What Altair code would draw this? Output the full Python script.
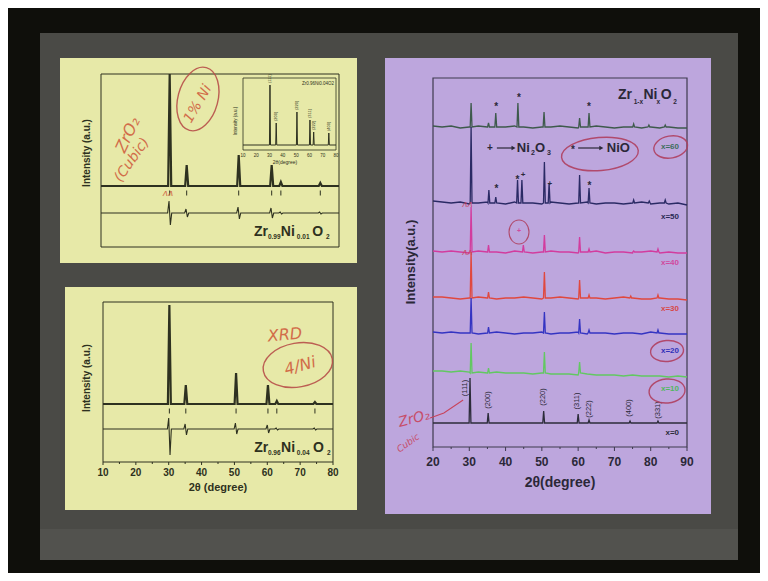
import altair as alt
import pandas as pd

# ---------------- colours ----------------
YELLOW = "#e7e9a8"
PURPLE = "#bda6dd"
SLIDE = "#4a4a46"
BAND = "#52524e"
BORDER = "#0f0f0b"
INK_L = "#2e3120"
INK_R = "#2b2838"
HAND_L = "#d0603f"
HAND_R = "#c8445c"
FONT = "Liberation Sans"
HAND = "DejaVu Sans"

# ---------------- data: top-left panel (Zr0.99Ni0.01O2) ----------------
tl_peak_pos = [30.2, 35.2, 50.5, 60.2, 62.9, 74.5]
tl_obs_height = [112, 21, 31, 21, 4, 3]
tl_obs_base = 61
tl_bragg_level = 54
tl_diff_base = 34
tl_diff_up = [46, 38, 40, 39, 35, 35]
tl_diff_down = [22, 30, 28, 29, 33, 33]

# inset of the top-left panel
in_peak_pos = [30.3, 35.0, 50.6, 60.4, 63.2, 74.6]
in_peak_height = [60, 22, 33, 25, 13, 12]
in_base = 5
in_hkl = ["(111)", "(200)", "(220)", "(311)", "(222)", "(400)"]
in_ticks = [10, 20, 30, 40, 50, 60, 70, 80]

# ---------------- data: bottom-left panel (Zr0.96Ni0.04O2) ----------------
bl_peak_pos = [30.2, 35.2, 50.5, 60.2, 62.9, 74.5]
bl_obs_height = [99, 19, 31, 19, 3, 2]
bl_obs_base = 58
bl_bragg_level = 51
bl_diff_base = 33
bl_diff_up = [44, 38, 39, 37, 34, 34]
bl_diff_down = [7, 27, 28, 29, 32, 32]
bl_ticks = [10, 20, 30, 40, 50, 60, 70, 80]
bl_minor = [15, 25, 35, 45, 55, 65, 75]

# ---------------- data: right panel (Zr1-xNixO2) ----------------
r_grid = [20, 22.5, 25, 27.5, 30, 32.5, 35, 37.5, 40, 42.5, 45, 47.5, 50, 52.5,
          55, 57.5, 60, 62.5, 65, 67.5, 70, 72.5, 75, 77.5, 80, 82.5, 85, 87.5, 90]
r_ticks = [20, 30, 40, 50, 60, 70, 80, 90]
r_minor = [25, 35, 45, 55, 65, 75, 85]

x60_base = 320
x60_noise = [1, 0, 1, -1, 0, 1, 0, -1, 0, 1, 0, -1, 0, 0, 1, 0, -1, 0, 1, 0, -1, 0, 0, -1, 0, -1, 0, -1, -1]
x60_pos = [30.5, 35.3, 37.3, 43.4, 50.6, 60.4, 63.0, 75.3, 79.5, 84.0]
x60_h = [24, 4, 14, 24, 15, 9, 14, 3, 2, 2]

x50_base = 244
x50_noise = [2, 1, 0, 1, -1, 0, 1, 0, -1, 1, 0, 0, -1, 1, 0, -1, 0, 1, -1, 0, 0, -1, 0, 1, -1, 0, -1, 0, -2]
x50_pos = [30.5, 35.4, 37.3, 43.3, 44.5, 50.7, 52.0, 60.4, 63.0, 75.3, 79.6, 84.0]
x50_h = [76, 13, 6, 23, 23, 41, 20, 28, 15, 3, 2, 3]

x40_base = 195
x40_noise = [1, 0, 1, 0, -1, 1, 0, 0, -1, 1, 0, -1, 0, 1, 0, 0, -1, 0, 1, -1, 0, 0, -1, 0, 1, -1, 0, -1, -1]
x40_pos = [30.5, 35.3, 44.9, 50.7, 60.4, 63.0, 75.3, 82.0]
x40_h = [45, 7, 7, 17, 15, 3, 1, 3]

x30_base = 149
x30_noise = [1, 1, 0, -1, 0, 1, 0, -1, 0, 0, 1, 0, -1, 0, 1, 0, -1, 0, 0, -1, 0, 1, 0, -1, -1, 0, -1, -1, -2]
x30_pos = [30.5, 35.3, 50.7, 60.4, 63.0, 74.5, 82.0]
x30_h = [46, 6, 26, 18, 3, 2, 3]

x20_base = 114
x20_noise = [1, 0, 1, 0, 0, -1, 0, 1, 0, -1, 0, 0, 1, -1, 0, 0, 1, -1, 0, 0, -1, 0, 0, -1, 1, 0, -1, -1, -1]
x20_pos = [30.5, 35.3, 50.7, 60.4, 63.0, 82.0]
x20_h = [35, 6, 21, 14, 3, 3]

x10_base = 74
x10_noise = [2, 2, 1, 2, 1, 1, 0, 1, 0, 0, 0, -1, 0, -1, -1, -1, -2, -1, -2, -2, -2, -3, -2, -3, -3, -3, -4, -3, -4]
x10_pos = [30.5, 35.3, 50.7, 60.4]
x10_h = [30, 5, 21, 11]

x0_base = 24
x0_noise = [0] * 29
x0_pos = [30.2, 35.2, 50.5, 60.0, 63.0, 74.3, 82.0]
x0_h = [45, 10, 12, 9, 3, 2, 2]

r_series = [
    ("x=60", x60_base, x60_noise, x60_pos, x60_h, "#3e5a4c", "#3e6e5e", 300),
    ("x=50", x50_base, x50_noise, x50_pos, x50_h, "#2a2a64", "#2a2a54", 230),
    ("x=40", x40_base, x40_noise, x40_pos, x40_h, "#d23c9e", "#d04a9e", 184),
    ("x=30", x30_base, x30_noise, x30_pos, x30_h, "#e0483e", "#d84848", 138),
    ("x=20", x20_base, x20_noise, x20_pos, x20_h, "#3434c2", "#3030b8", 96),
    ("x=10", x10_base, x10_noise, x10_pos, x10_h, "#62c862", "#50b860", 58),
    ("x=0", x0_base, x0_noise, x0_pos, x0_h, "#2c2c3a", "#2c2c3a", 14),
]

hkl_pos = [28.9, 35.2, 50.4, 59.8, 62.9, 74.0, 82.0]
hkl_level = [59, 47, 50, 46, 38, 39, 37]
hkl_text = ["(111)", "(200)", "(220)", "(311)", "(222)", "(400)", "(331)"]

nio_top_pos = [37.4, 43.7, 63.0]
nio_top_level = [340, 349, 340]
nio_mid_pos = [37.5, 43.3, 63.1]
nio_mid_level = [258, 267, 261]
ni2o3_mid_pos = [44.8, 52.2]
ni2o3_mid_level = [272, 263]

ONE = pd.DataFrame({"a": [0]})


# ---------------- helpers ----------------
def sc(dom, rng):
    return alt.Scale(domain=dom, range=rng, nice=False, zero=False)


def enc(xs, ys):
    return dict(x=alt.X("x:Q", scale=xs, axis=None), y=alt.Y("y:Q", scale=ys, axis=None))


def trace_rows(grid, offs, base, pos, hts, w):
    pts = []
    for g, o in zip(grid, offs):
        if all(abs(g - p) > w for p in pos):
            pts.append((g, base + o))
    for p, h in zip(pos, hts):
        pts += [(p - w, base), (p, base + h), (p + w, base)]
    return sorted(pts)


def diff_rows(lo, hi, pos, up, dn, base, w):
    pts = [(lo, base), (hi, base)]
    for p, u, d in zip(pos, up, dn):
        pts += [(p - w, base), (p - w / 3, u), (p + w / 3, d), (p + w, base)]
    return sorted(pts)


def line_layer(rows, xs, ys, color, width, opacity=1.0):
    df = pd.DataFrame(rows, columns=["x", "y"])
    return alt.Chart(df).mark_line(color=color, strokeWidth=width, opacity=opacity).encode(**enc(xs, ys))


def text_layer(rows, xs, ys, **mk):
    df = pd.DataFrame(rows, columns=["x", "y", "t"])
    return alt.Chart(df).mark_text(**mk).encode(text="t:N", **enc(xs, ys))


def frame(x0, x1, y0, y1, xs, ys, color, width):
    df = pd.DataFrame({"x": [x0], "x2": [x1], "y": [y0], "y2": [y1]})
    return alt.Chart(df).mark_rect(fillOpacity=0, stroke=color, strokeWidth=width).encode(
        x=alt.X("x:Q", scale=xs, axis=None), x2="x2:Q",
        y=alt.Y("y:Q", scale=ys, axis=None), y2="y2:Q")


def rules(xvals, y0, y1, xs, ys, color, width):
    df = pd.DataFrame({"x": xvals, "y": [y0] * len(xvals), "y2": [y1] * len(xvals)})
    return alt.Chart(df).mark_rule(color=color, strokeWidth=width).encode(
        x=alt.X("x:Q", scale=xs, axis=None), y=alt.Y("y:Q", scale=ys, axis=None), y2="y2:Q")


def panel(x0, x1, y0, y1, color):
    return alt.Chart(ONE).mark_rect(color=color).encode(
        x=alt.value(x0), x2=alt.value(x1), y=alt.value(y0), y2=alt.value(y1))


def arrowheads(rows, xs, ys, color):
    df = pd.DataFrame(rows, columns=["x", "y"])
    return alt.Chart(df).mark_point(shape="triangle-right", size=22, filled=True, color=color,
                                    opacity=1).encode(**enc(xs, ys))


def ellipse(x, y, w, h, ang, xs, ys, color, sw=1.4):
    if w >= h:
        r = round(h / w, 3)
        path = f"M -1 0 A 1 {r} 0 1 0 1 0 A 1 {r} 0 1 0 -1 0"
        s = w * w
    else:
        r = round(w / h, 3)
        path = f"M 0 -1 A {r} 1 0 1 0 0 1 A {r} 1 0 1 0 0 -1"
        s = h * h
    df = pd.DataFrame({"x": [x], "y": [y]})
    return alt.Chart(df).mark_point(shape=path, size=s, angle=ang, filled=False, color=color,
                                    strokeWidth=sw, opacity=0.9).encode(**enc(xs, ys))


def bold(size, color, **kw):
    return dict(font=FONT, fontWeight="bold", fontSize=size, color=color, **kw)


def hand(size, color, angle=0, **kw):
    return dict(font=HAND, fontStyle="italic", fontSize=size, color=color, angle=angle, opacity=0.9, **kw)


# ---------------- top-left tile ----------------
xs = sc([10, 80], [61, 299])
ys = sc([0, 173], [214, 41])
xi = sc([10, 80], [203, 296])
yi = sc([0, 72], [117, 45])

tl_layers = [
    panel(20, 317, 25, 230, YELLOW),
    frame(10, 80, 0, 173, xs, ys, INK_L, 1),
    line_layer(trace_rows([10, 80], [0, 0], tl_obs_base, tl_peak_pos, tl_obs_height, 0.45), xs, ys, INK_L, 2.2),
    rules(tl_peak_pos, tl_bragg_level - 2.5, tl_bragg_level + 2.5, xs, ys, INK_L, 1),
    line_layer(diff_rows(10, 80, tl_peak_pos, tl_diff_up, tl_diff_down, tl_diff_base, 0.6), xs, ys, INK_L, 1.1),
    text_layer([(5.9, 94, "Intensity (a.u.)")], xs, ys, **bold(10, INK_L, angle=270)),
    text_layer([(55.0, 15, "Zr"), (62.9, 15, "Ni"), (72.1, 15, "O")], xs, ys,
               **bold(14, INK_L, align="left", baseline="middle")),
    text_layer([(59.1, 10, "0.99"), (67.6, 10, "0.01"), (76.2, 10, "2")], xs, ys,
               **bold(6.5, INK_L, align="left", baseline="middle")),
    # inset
    frame(10, 80, 0, 72, xi, yi, INK_L, 0.8),
    line_layer(trace_rows([10, 80], [0, 0], in_base, in_peak_pos, in_peak_height, 0.4), xi, yi, INK_L, 1),
    text_layer([(p, in_base + h + 2, t) for p, h, t in zip(in_peak_pos, in_peak_height, in_hkl)], xi, yi,
               font=FONT, fontSize=4, color=INK_L, angle=270, align="left", baseline="middle"),
    text_layer([(66.5, 66, "Zr0.96Ni0.04O2")], xi, yi, font=FONT, fontSize=4.5, color=INK_L),
    text_layer([(t, -6, str(t)) for t in in_ticks], xi, yi, font=FONT, fontSize=4.5, color=INK_L),
    text_layer([(41.6, -12, "2θ(degree)")], xi, yi, font=FONT, fontSize=5, color=INK_L),
    text_layer([(4.7, 29, "Intensity (a.u.)")], xi, yi, font=FONT, fontSize=4.5, color=INK_L, angle=270),
    # handwriting
    text_layer([(17.9, 112, "ZrO₂")], xs, ys, **hand(16, HAND_L, 295)),
    text_layer([(19.1, 87, "(Cubic)")], xs, ys, **hand(14, HAND_L, 305)),
    text_layer([(38.5, 143, "1% Ni")], xs, ys, **hand(14, HAND_L, 300)),
    ellipse(38.5, 148, 40, 65, 15, xs, ys, "#b8504a"),
    text_layer([(29.7, 54, "ʌʌ")], xs, ys, **hand(9, HAND_L)),
]
tl = alt.layer(*tl_layers).resolve_scale(x="independent", y="independent").properties(width=335, height=242)

# ---------------- bottom-left tile ----------------
xb = sc([10, 80], [63, 293])
yb = sc([0, 160], [187, 27])

bl_layers = [
    panel(25, 317, 12, 235, YELLOW),
    panel(0, 335, 254, 285, BAND),
    frame(10, 80, 0, 160, xb, yb, INK_L, 1),
    line_layer(trace_rows([10, 80], [0, 0], bl_obs_base, bl_peak_pos, bl_obs_height, 0.45), xb, yb, INK_L, 2.2),
    rules(bl_peak_pos, bl_bragg_level - 2.5, bl_bragg_level + 2.5, xb, yb, INK_L, 1),
    line_layer(diff_rows(10, 80, bl_peak_pos, bl_diff_up, bl_diff_down, bl_diff_base, 0.6), xb, yb, INK_L, 1.1),
    rules(bl_ticks, 0, -3, xb, yb, INK_L, 1),
    rules(bl_minor, 0, -2, xb, yb, INK_L, 1),
    text_layer([(t, -11, str(t)) for t in bl_ticks], xb, yb, **bold(10, INK_L)),
    text_layer([(45.0, -26, "2θ (degree)")], xb, yb, **bold(11, INK_L)),
    text_layer([(5.1, 84, "Intensity (a.u.)")], xb, yb, **bold(10, INK_L, angle=270)),
    text_layer([(56.0, 14, "Zr"), (64.2, 14, "Ni"), (73.9, 14, "O")], xb, yb,
               **bold(14, INK_L, align="left", baseline="middle")),
    text_layer([(60.2, 9, "0.96"), (69.0, 9, "0.04"), (78.2, 9, "2")], xb, yb,
               **bold(6.5, INK_L, align="left", baseline="middle")),
    text_layer([(65.4, 127, "XRD")], xb, yb, **hand(16, HAND_L, 355)),
    text_layer([(70.0, 96, "4/Ni")], xb, yb, **hand(16, HAND_L, 345)),
    ellipse(69.3, 97, 70, 44, 350, xb, yb, "#b8504a"),
]
bl = alt.layer(*bl_layers).resolve_scale(x="independent", y="independent").properties(width=335, height=285)

# ---------------- right tile ----------------
xr = sc([20, 90], [58, 312])
yr = sc([0, 369], [414, 45])

r_layers = [
    panel(10, 336, 25, 481, PURPLE),
    panel(0, 363, 496, 527, BAND),
    frame(20, 90, 0, 369, xr, yr, "#3e3a4e", 1.2),
    rules(r_ticks, 0, -4, xr, yr, "#3e3a4e", 1),
    rules(r_minor, 0, -2, xr, yr, "#3e3a4e", 1),
    text_layer([(t, -15, str(t)) for t in r_ticks], xr, yr, **bold(12, INK_R)),
    text_layer([(55.0, -36, "2θ(degree)")], xr, yr, **bold(14, INK_R)),
    text_layer([(13.9, 185, "Intensity(a.u.)")], xr, yr, **bold(13, INK_R, angle=270)),
]
for name, base, noise, pos, hts, col, lcol, ly in r_series:
    r_layers.append(line_layer(trace_rows(r_grid, noise, base, pos, hts, 0.25), xr, yr, col, 1.3))
    r_layers.append(text_layer([(87.8, ly, name)], xr, yr, **bold(8, lcol, align="right")))

r_layers += [
    text_layer(list(zip(hkl_pos, hkl_level, hkl_text)), xr, yr,
               font=FONT, fontSize=7.5, color=INK_R, angle=270),
    text_layer([(p, l, "*") for p, l in zip(nio_top_pos, nio_top_level)], xr, yr, **bold(10, INK_R)),
    text_layer([(p, l, "*") for p, l in zip(nio_mid_pos, nio_mid_level)], xr, yr, **bold(10, INK_R)),
    text_layer([(p, l, "+") for p, l in zip(ni2o3_mid_pos, ni2o3_mid_level)], xr, yr, **bold(8, INK_R)),
    # title
    text_layer([(71.0, 352, "Zr"), (78.0, 352, "Ni"), (82.8, 352, "O")], xr, yr,
               **bold(14, INK_R, align="left", baseline="middle")),
    text_layer([(75.3, 345, "1-x"), (81.6, 345, "x"), (86.2, 345, "2")], xr, yr,
               **bold(6.5, INK_R, align="left", baseline="middle")),
    # legend
    text_layer([(35.7, 299, "+"), (58.6, 297, "*")], xr, yr, **bold(10, INK_R, baseline="middle")),
    line_layer([(37.6, 299), (42.0, 299)], xr, yr, INK_R, 1.2),
    line_layer([(60.0, 299), (66.2, 299)], xr, yr, INK_R, 1.2),
    arrowheads([(42.2, 299), (66.4, 299)], xr, yr, INK_R),
    text_layer([(43.1, 299, "Ni"), (48.1, 299, "O"), (67.9, 299, "NiO")], xr, yr,
               **bold(13, INK_R, align="left", baseline="middle")),
    text_layer([(47.0, 294, "2"), (51.4, 294, "3")], xr, yr,
               **bold(7, INK_R, align="left", baseline="middle")),
    # handwriting
    ellipse(66.0, 293, 77, 33, 355, xr, yr, "#b04060"),
    ellipse(85.5, 300, 34, 22, 350, xr, yr, "#b04060"),
    ellipse(84.5, 96, 33, 21, 355, xr, yr, "#b04060"),
    ellipse(84.5, 56, 36, 24, 355, xr, yr, "#b04060"),
    ellipse(43.7, 215, 20, 24, 0, xr, yr, "#b04060", 1.1),
    text_layer([(43.7, 216, "+")], xr, yr, **bold(7, "#d04a9e")),
    text_layer([(29.5, 243, "ʌʌ"), (29.5, 195, "ʌʌ")], xr, yr, **hand(9, HAND_R)),
    text_layer([(14.8, 28, "ZrO₂")], xr, yr, **hand(14, HAND_R, 345)),
    text_layer([(13.1, 4, "Cubic")], xr, yr, **hand(9, HAND_R, 325)),
    line_layer([(19.2, 29), (23.0, 34), (28.3, 47)], xr, yr, HAND_R, 1.1),
]
r = alt.layer(*r_layers).resolve_scale(x="independent", y="independent").properties(width=363, height=527)

chart = alt.hconcat(alt.vconcat(tl, bl, spacing=0), r, spacing=0).properties(
    background=BORDER,
    padding={"left": 32, "top": 25, "right": 22, "bottom": 13},
).configure_view(fill=SLIDE, strokeWidth=0)

chart.save("out.html", embed_options={"renderer": "svg", "actions": False})
